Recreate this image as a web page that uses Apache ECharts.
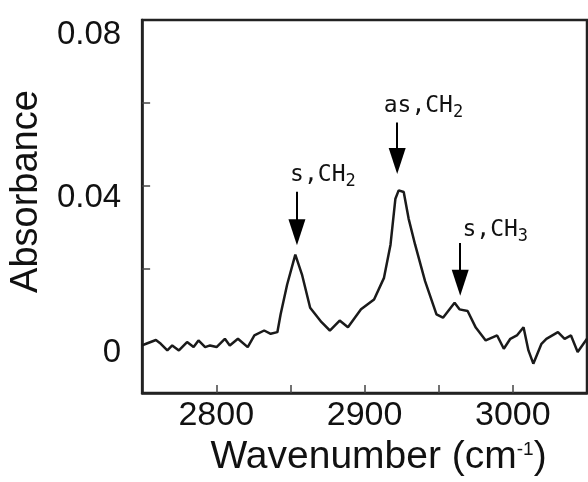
<!DOCTYPE html>
<html>
<head>
<meta charset="utf-8">
<script src="https://cdn.jsdelivr.net/npm/echarts@6/dist/echarts.min.js"></script>
<style>
html, body { margin: 0; padding: 0; background: #fff; }
#chart { width: 588px; height: 482px; }
</style>
</head>
<body>
<div id="chart"></div>
<script>
// IR spectrum
var wavenumber = [2750.0, 2752.7, 2759.3, 2762.6, 2767.0, 2770.3, 2774.8, 2780.3, 2784.7, 2788.0,
	2792.5, 2795.8, 2800.2, 2805.8, 2809.1, 2814.6, 2821.2, 2825.7, 2832.3, 2836.7,
	2841.2, 2843.4, 2847.8, 2853.3, 2857.8, 2863.3, 2871.0, 2876.6, 2883.2, 2888.8,
	2897.6, 2906.4, 2913.1, 2917.5, 2920.8, 2923.0, 2926.4, 2929.7, 2934.1, 2940.8,
	2948.5, 2952.9, 2960.7, 2964.0, 2969.5, 2975.0, 2981.7, 2989.4, 2993.9, 2998.3,
	3002.7, 3007.2, 3010.5, 3013.8, 3019.3, 3022.6, 3030.4, 3034.9, 3039.2, 3043.7, 3050.0];
var absorbance = [0.0015, 0.0019, 0.0028, 0.0019, 0.0003, 0.0015, 0.0003, 0.0023, 0.0011, 0.0027,
	0.0011, 0.0015, 0.0011, 0.0031, 0.0015, 0.0031, 0.0011, 0.0039, 0.0051, 0.0043,
	0.0047, 0.0090, 0.0162, 0.0234, 0.0186, 0.0106, 0.0071, 0.0051, 0.0075, 0.0059,
	0.0102, 0.0126, 0.0178, 0.0258, 0.0369, 0.0389, 0.0385, 0.0321, 0.0258, 0.0170,
	0.0090, 0.0082, 0.0118, 0.0102, 0.0098, 0.0058, 0.0027, 0.0039, 0.0007, 0.0031,
	0.0039, 0.0059, 0.0003, -0.0029, 0.0019, 0.0031, 0.0047, 0.0031, 0.0039, -0.0001, 0.0031];

var xTicks = [2800, 2850, 2900, 2950, 3000];
var xLabels = [2800, 2900, 3000];
var yTicks = [0.02, 0.04, 0.06];
var yLabels = [0, 0.04, 0.08];

// peak assignments
var peakName = ['s,CH', 'as,CH', 's,CH'];
var peakSub = ['2', '2', '3'];
var arrowX = [2854.4, 2922.0, 2964.5];
var arrowTop = [0.0386, 0.0553, 0.0262];
var arrowEnd = [0.0288, 0.0460, 0.0166];
var labelX = [2849.8, 2912.9, 2966.0];
var labelY = [0.0427, 0.0593, 0.0294];

var sans = '"Liberation Sans", Arial, sans-serif';
var mono = '"DejaVu Sans Mono", monospace';

var points = wavenumber.map(function (w, i) { return [w, absorbance[i]]; });

var arrows = arrowX.map(function (x, i) {
	return [{ coord: [x, arrowTop[i]] }, { coord: [x, arrowEnd[i]] }];
});

var labels = labelX.map(function (x, i) {
	return {
		coord: [x, labelY[i]],
		symbol: 'rect',
		symbolSize: 0,
		label: {
			show: true,
			position: 'right',
			distance: 0,
			formatter: '{m|' + peakName[i] + '}{s|' + peakSub[i] + '}',
			rich: {
				m: { fontFamily: mono, fontSize: 23, color: '#111' },
				s: { fontFamily: mono, fontSize: 17, color: '#111', padding: [14, 0, 0, 0] }
			}
		}
	};
});

var myChart = echarts.init(document.getElementById('chart'));
var option = {
	animation: false,
	grid: {
		left: 138,
		right: 1,
		top: 20,
		bottom: 87,
		show: true,
		borderColor: '#222',
		borderWidth: 2.5
	},
	xAxis: {
		type: 'value',
		min: 2750,
		max: 3050,
		name: '{n|Wavenumber (cm}{sup|-1}{n|)}',
		nameLocation: 'middle',
		nameGap: 44,
		nameTextStyle: {
			padding: [0, 0, 0, 28],
			rich: {
				n: { fontFamily: sans, fontSize: 39, color: '#111' },
				sup: { fontFamily: sans, fontSize: 19, color: '#111', padding: [0, 0, 16, 0] }
			}
		},
		axisLine: { show: true, onZero: false, lineStyle: { color: '#222', width: 2.5 } },
		axisTick: { show: true, inside: true, length: 8, customValues: xTicks, lineStyle: { color: '#444', width: 1.5 } },
		axisLabel: {
			customValues: xLabels,
			margin: 6,
			fontFamily: sans,
			fontSize: 34,
			color: '#111',
			formatter: function (v) { return String(v); }
		},
		splitLine: { show: false }
	},
	yAxis: {
		type: 'value',
		min: -0.01,
		max: 0.08,
		name: 'Absorbance',
		nameLocation: 'middle',
		nameGap: 84,
		nameTextStyle: { fontFamily: sans, fontSize: 38, color: '#111', padding: [0, 0, 0, 30] },
		axisLine: { show: true, onZero: false, lineStyle: { color: '#222', width: 2.5 } },
		axisTick: { show: true, inside: true, length: 8, customValues: yTicks, lineStyle: { color: '#444', width: 1.5 } },
		axisLabel: {
			customValues: yLabels,
			margin: 21,
			formatter: function (v) {
				if (v === 0) return '{c|0}';
				if (v > 0.07) return '{a|' + v.toFixed(2) + '}';
				return '{b|' + v.toFixed(2) + '}';
			},
			rich: {
				a: { fontFamily: sans, fontSize: 33, color: '#111', padding: [30, 0, 0, 0] },
				b: { fontFamily: sans, fontSize: 33, color: '#111', padding: [25, 0, 0, 0] },
				c: { fontFamily: sans, fontSize: 33, color: '#111', padding: [3, 0, 0, 0] }
			}
		},
		splitLine: { show: false }
	},
	series: [
		{
			type: 'line',
			data: points,
			showSymbol: false,
			lineStyle: { color: '#1a1a1a', width: 2.5 },
			markLine: {
				silent: true,
				symbol: ['none', 'triangle'],
				symbolSize: [17, 26],
				label: { show: false },
				lineStyle: { type: 'solid', color: '#000', width: 2 },
				itemStyle: { color: '#000' },
				data: arrows
			},
			markPoint: {
				silent: true,
				data: labels
			}
		}
	]
};
myChart.setOption(option);
</script>
</body>
</html>
